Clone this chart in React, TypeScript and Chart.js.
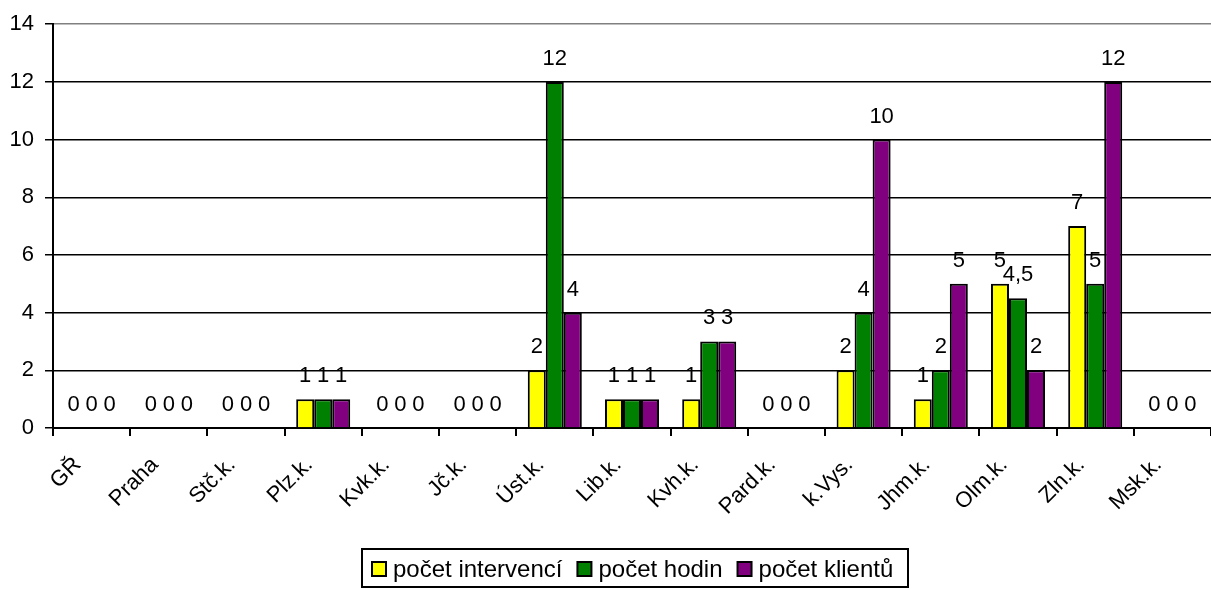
import React, { useEffect, useRef } from "react";
import { Chart, registerables } from "chart.js";

Chart.register(...registerables);

const FONT = '"Liberation Sans", Arial, Helvetica, sans-serif';
const FONT_SIZE = 22;
const LEGEND_FONT_SIZE = 24;

const categories = ["GŘ", "Praha", "Stč.k.", "Plz.k.", "Kvk.k.", "Jč.k.", "Úst.k.", "Lib.k.", "Kvh.k.", "Pard.k.", "k.Vys.", "Jhm.k.", "Olm.k.", "Zln.k.", "Msk.k."];
const intervenci = [0, 0, 0, 1, 0, 0, 2, 1, 1, 0, 2, 1, 5, 7, 0];
const hodin = [0, 0, 0, 1, 0, 0, 12, 1, 3, 0, 4, 2, 4.5, 5, 0];
const klientu = [0, 0, 0, 1, 0, 0, 4, 1, 3, 0, 10, 5, 2, 12, 0];
const seriesNames = ["počet intervencí", "počet hodin", "počet klientů"];
const seriesColors = ["#FFFF00", "#008000", "#800080"];
const yMin = 0;
const yMax = 14;
const yStep = 2;

const valueLabels = {
  id: "valueLabels",
  afterDatasetsDraw(chart: any) {
    const ctx = chart.ctx;
    ctx.save();
    ctx.font = `${FONT_SIZE}px ${FONT}`;
    ctx.fillStyle = "#000";
    ctx.textAlign = "center";
    ctx.textBaseline = "alphabetic";
    chart.data.datasets.forEach((ds: any, i: number) => {
      const meta = chart.getDatasetMeta(i);
      meta.data.forEach((el: any, j: number) => {
        const v = ds.data[j];
        ctx.fillText(String(v).replace(".", ","), el.x, el.y - 17);
      });
    });
    ctx.restore();
  },
};

const boxLegend = {
  id: "boxLegend",
  afterDraw(chart: any) {
    const ctx = chart.ctx;
    const ds = chart.data.datasets;
    ctx.save();
    ctx.font = `${LEGEND_FONT_SIZE}px ${FONT}`;
    const sq = 14, gapText = 7, gapItem = 15, padL = 10, padR = 15;
    const widths = ds.map((d: any) => ctx.measureText(d.label).width);
    const total = widths.reduce((a: number, w: number) => a + sq + gapText + w, 0) + gapItem * (ds.length - 1);
    const boxW = Math.round(total + padL + padR);
    const cx = (chart.chartArea.left + chart.chartArea.right) / 2 + 3;
    const left = Math.round(cx - boxW / 2);
    const top = chart.height - 40;
    const h = 38;
    ctx.strokeStyle = "#000";
    ctx.lineWidth = 2;
    ctx.strokeRect(left, top, boxW, h);
    let x = left + padL;
    const cy = top + h / 2 + 1;
    ctx.textBaseline = "middle";
    ctx.textAlign = "left";
    ds.forEach((d: any, i: number) => {
      ctx.fillStyle = d.backgroundColor;
      ctx.fillRect(x, cy - sq / 2, sq, sq);
      ctx.lineWidth = 2;
      ctx.strokeRect(x, cy - sq / 2, sq, sq);
      x += sq + gapText;
      ctx.fillStyle = "#000";
      ctx.fillText(d.label, x, cy + 1);
      x += widths[i] + gapItem;
    });
    ctx.restore();
  },
};

export default function App() {
  const ref = useRef<HTMLCanvasElement | null>(null);
  useEffect(() => {
    document.body.style.margin = "0";
    const canvas = ref.current;
    if (!canvas) return;
    const chart = new Chart(canvas, {
      type: "bar",
      data: {
        labels: categories,
        datasets: [intervenci, hodin, klientu].map((data, i) => ({
          label: seriesNames[i],
          data,
          backgroundColor: seriesColors[i],
          borderColor: "#000",
          borderWidth: 2,
          categoryPercentage: 0.7,
          barPercentage: 1.0,
        })),
      },
      options: {
        responsive: false,
        animation: false,
        events: [],
        layout: { padding: { top: 19, right: 0, left: 0, bottom: 61 } },
        plugins: {
          legend: { display: false },
          tooltip: { enabled: false },
        },
        scales: {
          x: {
            afterFit: (s: any) => { s.height = 100; },
            grid: { drawOnChartArea: false, color: "#000", tickLength: 8, lineWidth: 2, offset: true },
            border: { color: "#000", width: 2 },
            ticks: {
              color: "#000",
              font: { family: FONT, size: FONT_SIZE },
              maxRotation: 45,
              minRotation: 45,
              autoSkip: false,
              padding: 16,
              labelOffset: -14,
            },
          },
          y: {
            min: yMin,
            max: yMax,
            afterFit: (s: any) => { s.width = 53; },
            grid: {
              color: (c: any) => (c.tick && c.tick.value === yMax ? "#808080" : "#000"),
              tickColor: "#000",
              lineWidth: 1.5,
              tickLength: 8,
            },
            border: { color: "#000", width: 2 },
            ticks: {
              stepSize: yStep,
              color: "#000",
              font: { family: FONT, size: FONT_SIZE },
              padding: 11,
            },
          },
        },
      },
      plugins: [valueLabels, boxLegend],
    });
    return () => chart.destroy();
  }, []);
  return (
    <div style={{ width: 1211, height: 589 }}>
      <canvas ref={ref} width={1211} height={589} style={{ display: "block" }} />
    </div>
  );
}
